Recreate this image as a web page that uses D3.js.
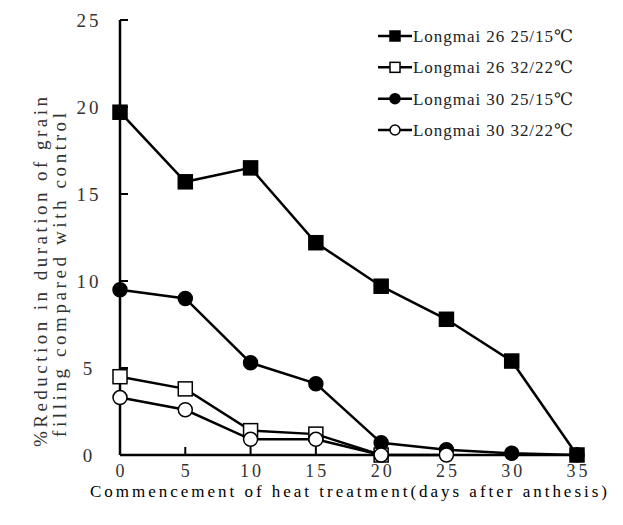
<!DOCTYPE html>
<html>
<head>
<meta charset="utf-8">
<script src="https://cdn.jsdelivr.net/npm/d3@7"></script>
<style>
  body { margin: 0; background: #fff; }
  svg text { font-family: "Liberation Serif", "DejaVu Serif", serif; }
</style>
</head>
<body>
<svg id="chart" width="623" height="525"></svg>
<script>
const days = [0, 5, 10, 15, 20, 25, 30, 35];
const lm26Cool = [19.7, 15.7, 16.5, 12.2, 9.7, 7.8, 5.4, 0];
const lm26Hot = [4.5, 3.8, 1.4, 1.2, 0];
const lm30Cool = [9.5, 9.0, 5.3, 4.1, 0.7, 0.3, 0.1, 0];
const lm30Hot = [3.3, 2.6, 0.9, 0.9, 0, 0];
const xTicks = [0, 5, 10, 15, 20, 25, 30, 35];
const yTicks = [0, 5, 10, 15, 20, 25];
const legendNames = ['Longmai 26 25/15℃', 'Longmai 26 32/22℃', 'Longmai 30 25/15℃', 'Longmai 30 32/22℃'];

const series = [
  {name: legendNames[0], values: lm26Cool, shape: 'square', fill: '#000'},
  {name: legendNames[1], values: lm26Hot, shape: 'square', fill: '#fff'},
  {name: legendNames[2], values: lm30Cool, shape: 'circle', fill: '#000'},
  {name: legendNames[3], values: lm30Hot, shape: 'circle', fill: '#fff'}
];

const svg = d3.select('#chart');
const x = d3.scaleLinear().domain([0, 35]).range([120, 577]);
const y = d3.scaleLinear().domain([0, 25]).range([455, 20]);

// axes: inward ticks, no domain arrows
svg.append('line').attr('x1', x(0)).attr('x2', x(0)).attr('y1', y(25)).attr('y2', y(0))
  .attr('stroke', '#000').attr('stroke-width', 2.5);
svg.append('line').attr('x1', x(0)).attr('x2', x(35)).attr('y1', y(0)).attr('y2', y(0))
  .attr('stroke', '#000').attr('stroke-width', 2.5);

svg.append('g').selectAll('line').data(yTicks).enter().append('line')
  .attr('x1', x(0)).attr('x2', x(0) + 8).attr('y1', d => y(d)).attr('y2', d => y(d))
  .attr('stroke', '#000').attr('stroke-width', 2);
svg.append('g').selectAll('line').data(xTicks).enter().append('line')
  .attr('x1', d => x(d)).attr('x2', d => x(d)).attr('y1', y(0)).attr('y2', y(0) - 8)
  .attr('stroke', '#000').attr('stroke-width', 2);

svg.append('g').selectAll('text').data(yTicks).enter().append('text')
  .attr('x', 89).attr('y', d => y(d) + 7).attr('text-anchor', 'middle')
  .attr('font-size', 19).attr('letter-spacing', 3).attr('fill', '#333')
  .text(d => d);
svg.append('g').selectAll('text').data(xTicks).enter().append('text')
  .attr('x', d => x(d) + 1.5).attr('y', 477).attr('text-anchor', 'middle')
  .attr('font-size', 18).attr('letter-spacing', 3).attr('fill', '#333')
  .text(d => d);

svg.append('text').attr('x', 90).attr('y', 497).attr('font-size', 17)
  .attr('textLength', 517).attr('lengthAdjust', 'spacing')
  .text('Commencement of heat treatment(days after anthesis)');

svg.append('text').attr('transform', 'translate(47,447) rotate(-90)').attr('font-size', 19)
  .attr('textLength', 350).attr('lengthAdjust', 'spacing').attr('fill', '#333')
  .text('%Reduction in duration of grain');
svg.append('text').attr('transform', 'translate(66,437) rotate(-90)').attr('font-size', 19)
  .attr('textLength', 324).attr('lengthAdjust', 'spacing').attr('fill', '#333')
  .text('filling compared with control');

const line = d3.line().x((d, i) => x(days[i])).y(d => y(d));

function drawMarker(g, shape, fill, size) {
  if (shape === 'square') {
    g.append('rect').attr('x', -size / 2).attr('y', -size / 2).attr('width', size).attr('height', size)
      .attr('fill', fill).attr('stroke', '#000').attr('stroke-width', 1.5);
  } else {
    g.append('circle').attr('r', size / 2).attr('fill', fill).attr('stroke', '#000').attr('stroke-width', 1.5);
  }
}

series.forEach(s => {
  svg.append('path').datum(s.values).attr('d', line)
    .attr('fill', 'none').attr('stroke', '#000').attr('stroke-width', 2.5);
});
series.forEach(s => {
  s.values.forEach((v, i) => {
    const g = svg.append('g').attr('transform', `translate(${x(days[i])},${y(v)})`);
    drawMarker(g, s.shape, s.fill, 14);
  });
});

// legend
const legendY = d3.scalePoint().domain(legendNames).range([36, 130]);
series.forEach(s => {
  const ly = legendY(s.name);
  svg.append('line').attr('x1', 378).attr('x2', 412).attr('y1', ly).attr('y2', ly)
    .attr('stroke', '#000').attr('stroke-width', 2.5);
  const g = svg.append('g').attr('transform', `translate(395,${ly})`);
  drawMarker(g, s.shape, s.fill, 10);
  svg.append('text').attr('x', 413).attr('y', ly + 6).attr('font-size', 17)
    .attr('textLength', 160).attr('lengthAdjust', 'spacing').attr('fill', '#222')
    .text(s.name);
});
</script>
</body>
</html>
